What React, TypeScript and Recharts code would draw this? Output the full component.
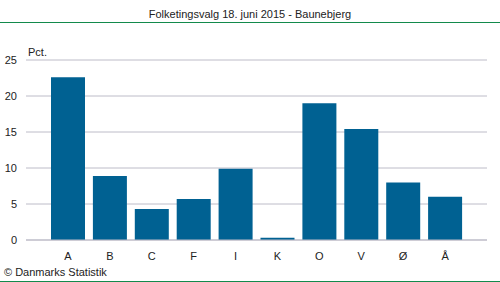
import { BarChart, Bar, XAxis, YAxis, CartesianGrid } from "recharts";

const PARTIES = ["A", "B", "C", "F", "I", "K", "O", "V", "Ø", "Å"];
const PCT = [22.6, 8.9, 4.3, 5.7, 9.9, 0.3, 19.0, 15.4, 8.0, 6.0];
const Y_TICKS = [0, 5, 10, 15, 20, 25];

const BLUE = "#006192";
const GREEN = "#138a4c";
const GRID = "#bdbcc8";
const TEXT = "#222";
const FONT = "'Liberation Sans', Arial, sans-serif";

const data = PARTIES.map((p, i) => ({ party: p, pct: PCT[i] }));

export default function App() {
  return (
    <div style={{ position: "absolute", left: 0, top: 0, width: 500, height: 282, background: "#fff", fontFamily: FONT, overflow: "hidden" }}>
      <div style={{ position: "absolute", top: 8, left: 0, width: 500, textAlign: "center", fontSize: 11, color: TEXT }}>
        Folketingsvalg 18. juni 2015 - Baunebjerg
      </div>
      <div style={{ position: "absolute", top: 22, left: 0, width: 500, height: 1, background: GREEN }} />
      <div style={{ position: "absolute", top: 46, left: 28, fontSize: 11, color: TEXT }}>Pct.</div>

      <div style={{ position: "absolute", top: 0, left: 0 }}>
        <BarChart width={500} height={282} data={data} margin={{ top: 60, right: 13, left: 0, bottom: 22 }}>
          <CartesianGrid vertical={false} stroke={GRID} strokeWidth={1} />
          <XAxis
            dataKey="party"
            axisLine={{ stroke: GRID }}
            tickLine={false}
            tickMargin={6}
            padding={{ left: 21, right: 21 }}
            tick={{ fill: TEXT, fontSize: 11, fontFamily: FONT }}
            height={20}
          />
          <YAxis
            domain={[0, 25]}
            ticks={Y_TICKS}
            axisLine={false}
            tickLine={false}
            width={26}
            tickMargin={3}
            tick={{ fill: TEXT, fontSize: 11, fontFamily: FONT }}
          />
          <Bar dataKey="pct" fill={BLUE} barSize={34} isAnimationActive={false} />
        </BarChart>
      </div>

      <div style={{ position: "absolute", top: 266, left: 4, fontSize: 11, color: TEXT }}>© Danmarks Statistik</div>
      <div style={{ position: "absolute", top: 281, left: 0, width: 500, height: 1, background: GREEN }} />
    </div>
  );
}
